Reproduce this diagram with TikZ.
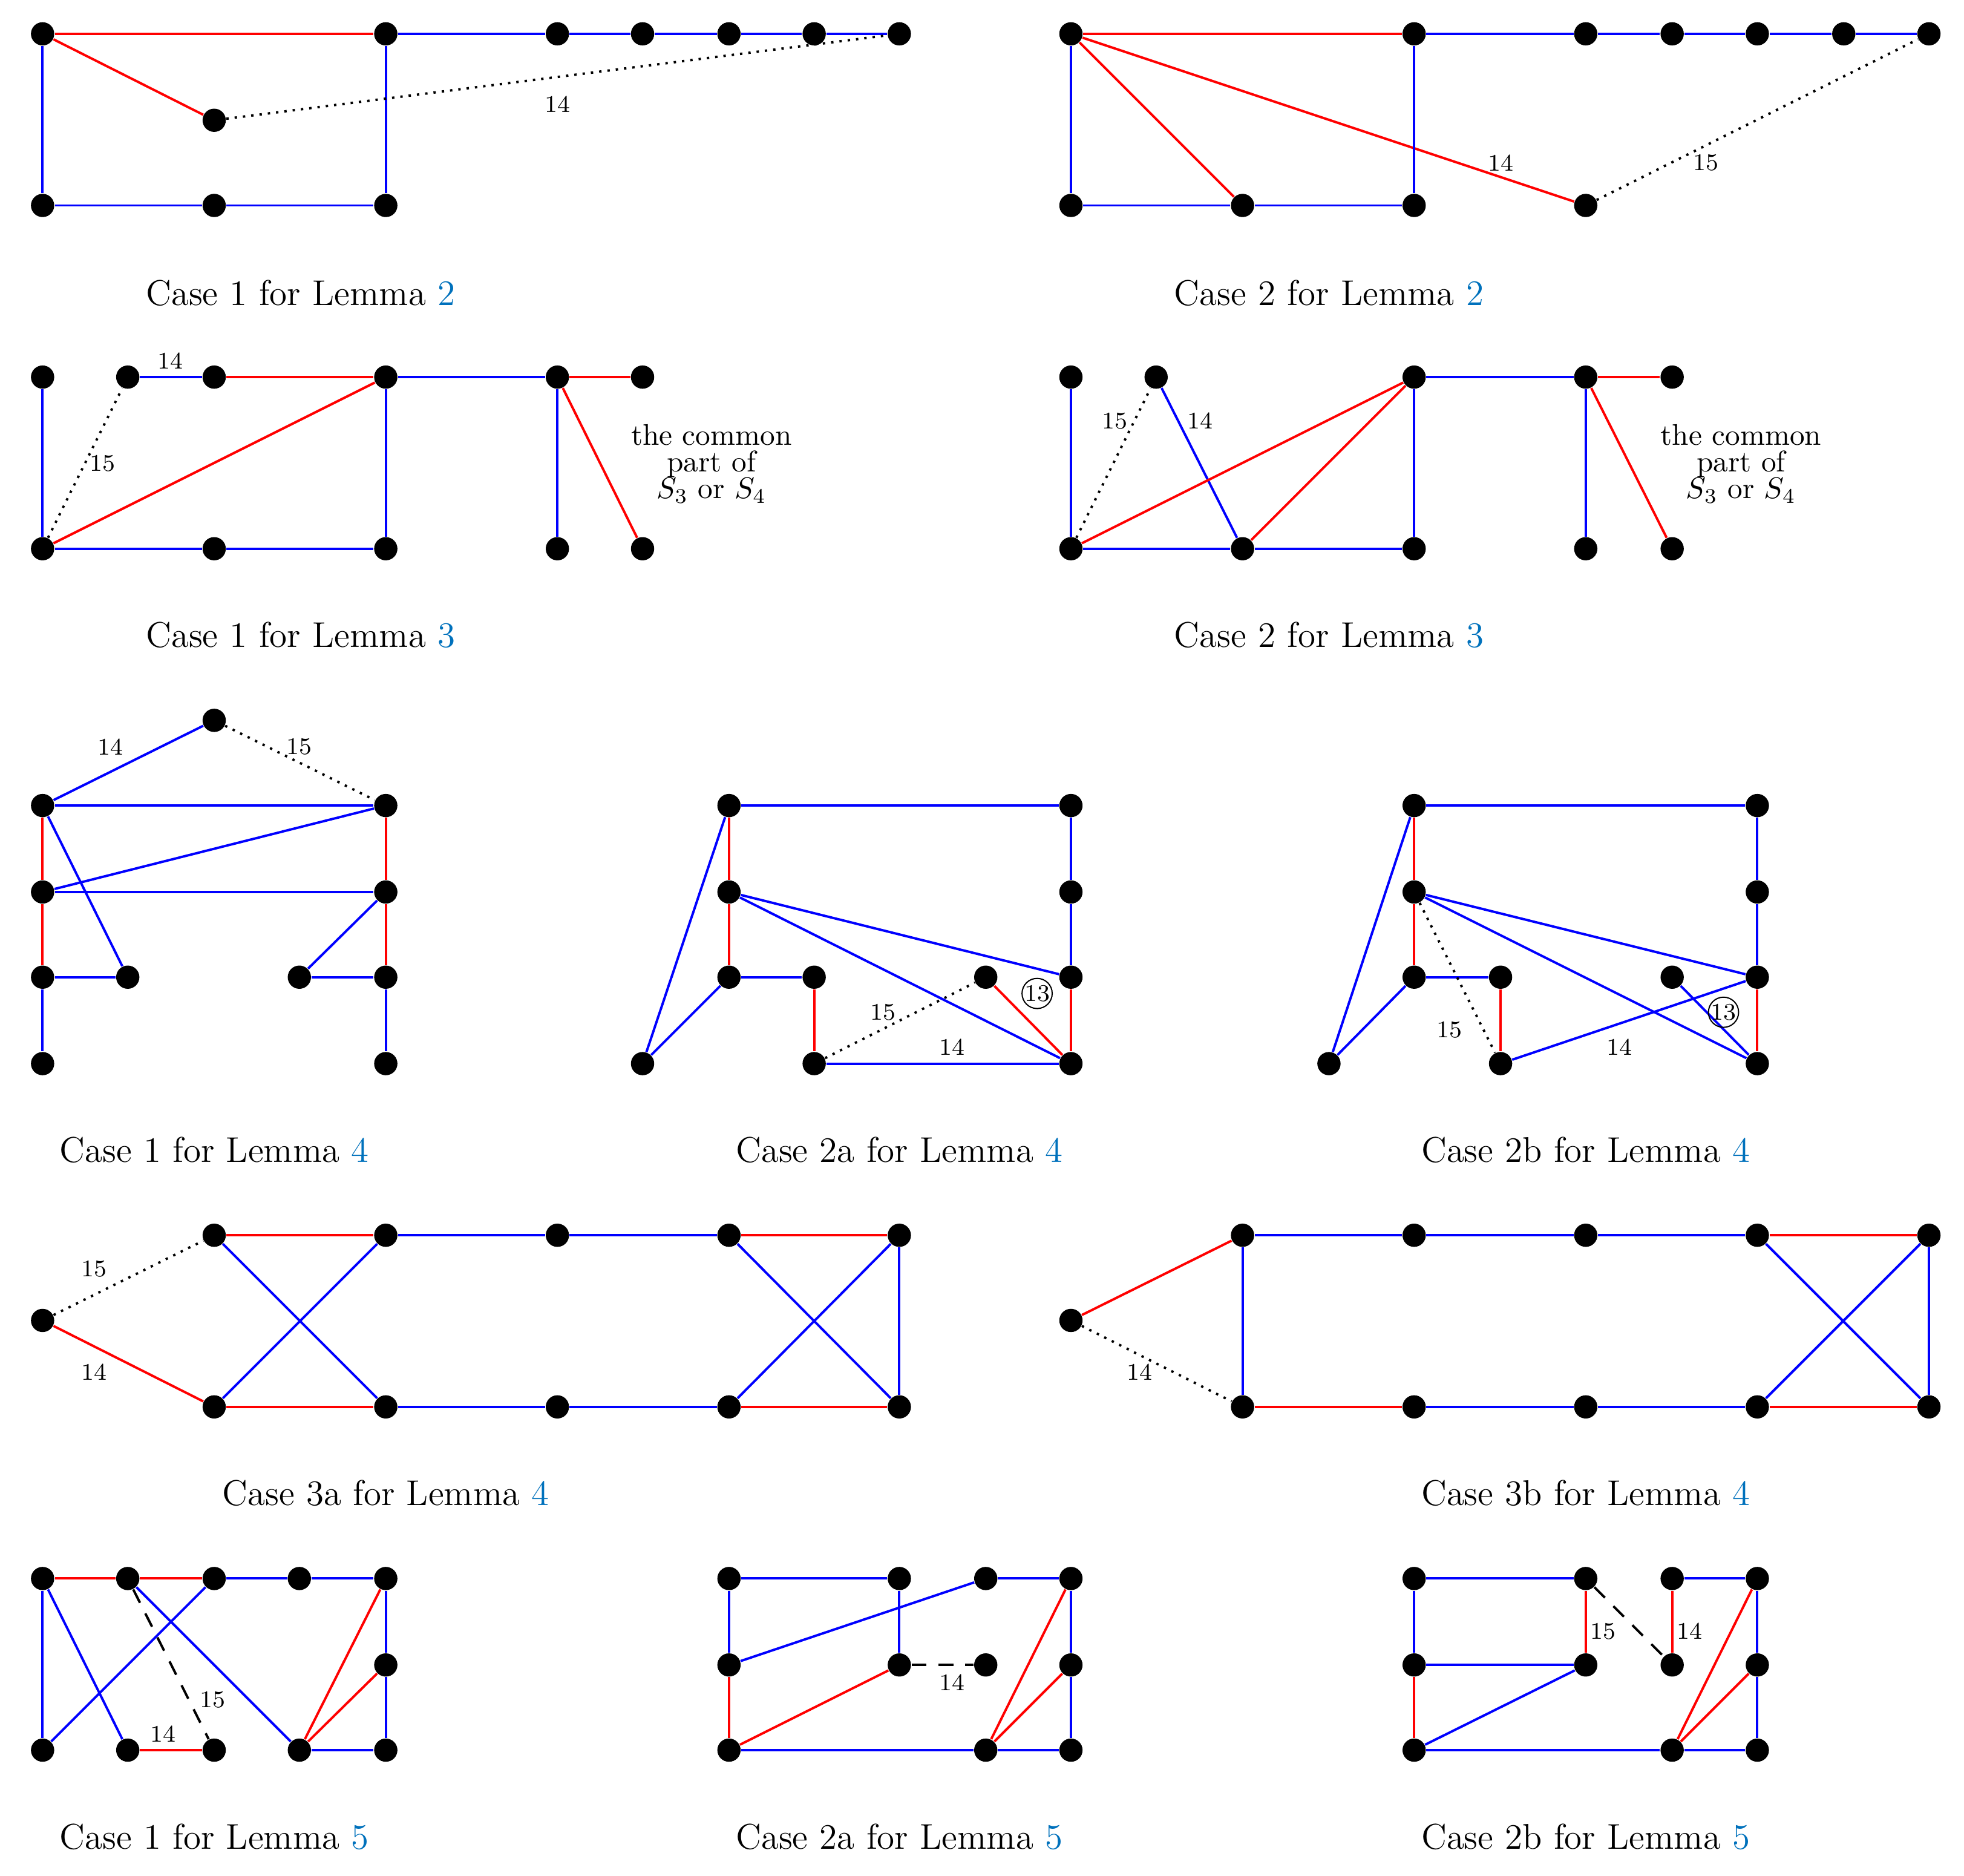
\documentclass[tikz,border=0pt]{standalone}
\usetikzlibrary{calc}
\definecolor{refblue}{RGB}{0,113,188}
\tikzset{
 v/.style={circle,fill=black,inner sep=0pt,minimum size=7.8pt},
 R/.style={red,line width=0.8pt},
 B/.style={blue,line width=0.8pt},
 Dt/.style={black,dotted,line width=0.8pt},
 Ds/.style={black,dashed,dash pattern=on 5pt off 4pt,line width=0.8pt},
 lab/.style={font=\footnotesize,inner sep=1pt},
 captxt/.style={font=\large},
}
\newcommand{\Vx}[3]{\node[v] (#1) at (#2,#3) {};}
\newcommand{\Lm}[1]{\textcolor{refblue}{#1}}
\begin{document}
\begin{tikzpicture}[x=0.42pt,y=-0.42pt]
\useasboundingbox (0,0) rectangle (1568,1497);
% ---------- Case 1 Lemma 2
\Vx{a1}{34}{27}\Vx{a2}{308}{27}\Vx{a3}{445}{27}\Vx{a4}{513}{27}\Vx{a5}{582}{27}\Vx{a6}{650}{27}\Vx{a7}{718}{27}
\Vx{a8}{171}{96}\Vx{a9}{34}{164}\Vx{a10}{171}{164}\Vx{a11}{308}{164}
\draw[R] (a1)--(a2); \draw[R] (a1)--(a8);
\draw[B] (a2)--(a3)--(a4)--(a5)--(a6)--(a7);
\draw[B] (a1)--(a9); \draw[B] (a9)--(a10)--(a11); \draw[B] (a2)--(a11);
\draw[Dt] (a8)--(a7);
\node[lab] (la1) at (445,83) {14};
\node[captxt] (ca) at (240,234) {Case 1 for Lemma \Lm{2}};
% ---------- Case 2 Lemma 2
\Vx{b1}{855}{27}\Vx{b2}{1129}{27}\Vx{b3}{1266}{27}\Vx{b4}{1335}{27}\Vx{b5}{1403}{27}\Vx{b6}{1472}{27}\Vx{b7}{1540}{27}
\Vx{b8}{855}{164}\Vx{b9}{992}{164}\Vx{b10}{1129}{164}\Vx{b11}{1266}{164}
\draw[R] (b1)--(b2); \draw[R] (b1)--(b9); \draw[R] (b1)--(b11);
\draw[B] (b2)--(b3)--(b4)--(b5)--(b6)--(b7);
\draw[B] (b1)--(b8); \draw[B] (b8)--(b9)--(b10); \draw[B] (b2)--(b10);
\draw[Dt] (b11)--(b7);
\node[lab] (lb1) at (1198,130) {14};
\node[lab] (lb2) at (1362,130) {15};
\node[captxt] (cb) at (1061,234) {Case 2 for Lemma \Lm{2}};
% ---------- Case 1 Lemma 3
\Vx{c1}{34}{301}\Vx{c2}{102}{301}\Vx{c3}{171}{301}\Vx{c4}{308}{301}\Vx{c5}{445}{301}\Vx{c6}{513}{301}
\Vx{c7}{34}{438}\Vx{c8}{171}{438}\Vx{c9}{308}{438}\Vx{c10}{445}{438}\Vx{c11}{513}{438}
\draw[B] (c1)--(c7); \draw[B] (c2)--(c3); \draw[R] (c3)--(c4); \draw[R] (c7)--(c4);
\draw[B] (c4)--(c5); \draw[R] (c5)--(c6); \draw[B] (c4)--(c9); \draw[B] (c7)--(c8)--(c9);
\draw[B] (c5)--(c10); \draw[R] (c5)--(c11); \draw[Dt] (c7)--(c2);
\node[lab] (lc1) at (136,288) {14};
\node[lab] (lc2) at (82,370) {15};
\node[align=center,inner sep=0pt,font=\normalsize] (tc) at (568,370) {the common\\[-3pt]part of\\[-3pt]$S_3$ or $S_4$};
\node[captxt] (cc) at (240,507) {Case 1 for Lemma \Lm{3}};
% ---------- Case 2 Lemma 3
\Vx{d1}{855}{301}\Vx{d2}{923}{301}\Vx{d3}{1129}{301}\Vx{d4}{1266}{301}\Vx{d5}{1335}{301}
\Vx{d6}{855}{438}\Vx{d7}{992}{438}\Vx{d8}{1129}{438}\Vx{d9}{1266}{438}\Vx{d10}{1335}{438}
\draw[B] (d1)--(d6); \draw[Dt] (d6)--(d2); \draw[B] (d2)--(d7);
\draw[R] (d6)--(d3); \draw[R] (d7)--(d3); \draw[B] (d3)--(d4); \draw[R] (d4)--(d5);
\draw[B] (d3)--(d8); \draw[B] (d6)--(d7)--(d8); \draw[B] (d4)--(d9); \draw[R] (d4)--(d10);
\node[lab] (ld1) at (890,336) {15};
\node[lab] (ld2) at (958,336) {14};
\node[align=center,inner sep=0pt,font=\normalsize] (td) at (1390,370) {the common\\[-3pt]part of\\[-3pt]$S_3$ or $S_4$};
\node[captxt] (cd) at (1061,507) {Case 2 for Lemma \Lm{3}};
% ---------- Case 1 Lemma 4
\Vx{e1}{171}{575}\Vx{e2}{34}{643}\Vx{e3}{308}{643}\Vx{e4}{34}{712}\Vx{e5}{308}{712}
\Vx{e6}{34}{780}\Vx{e7}{102}{780}\Vx{e8}{239}{780}\Vx{e9}{308}{780}\Vx{e10}{34}{849}\Vx{e11}{308}{849}
\draw[B] (e2)--(e1); \draw[Dt] (e1)--(e3); \draw[B] (e2)--(e3); \draw[B] (e4)--(e3); \draw[B] (e4)--(e5);
\draw[B] (e2)--(e7); \draw[R] (e2)--(e4)--(e6); \draw[B] (e6)--(e7); \draw[B] (e6)--(e10);
\draw[R] (e3)--(e5)--(e9); \draw[B] (e5)--(e8); \draw[B] (e8)--(e9); \draw[B] (e9)--(e11);
\node[lab] (le1) at (88,596) {14};
\node[lab] (le2) at (239,596) {15};
\node[captxt] (ce) at (171,918) {Case 1 for Lemma \Lm{4}};
% ---------- Case 2a Lemma 4
\Vx{f1}{582}{643}\Vx{f2}{855}{643}\Vx{f3}{582}{712}\Vx{f4}{855}{712}\Vx{f5}{582}{780}\Vx{f6}{650}{780}
\Vx{f7}{787}{780}\Vx{f8}{855}{780}\Vx{f9}{513}{849}\Vx{f10}{650}{849}\Vx{f11}{855}{849}
\draw[B] (f1)--(f2); \draw[B] (f2)--(f4)--(f8); \draw[R] (f1)--(f3)--(f5);
\draw[B] (f1)--(f9); \draw[B] (f9)--(f5); \draw[B] (f5)--(f6); \draw[R] (f6)--(f10);
\draw[B] (f3)--(f8); \draw[B] (f3)--(f11); \draw[B] (f10)--(f11); \draw[Dt] (f10)--(f7);
\draw[R] (f7)--(f11); \draw[R] (f8)--(f11);
\node[lab] (lf1) at (760,836) {14};
\node[lab] (lf2) at (705,808) {15};
\node[lab,circle,draw,inner sep=0pt,minimum size=9pt] (lf3) at (828,793) {13};
\node[captxt] (cf) at (718,918) {Case 2a for Lemma \Lm{4}};
% ---------- Case 2b Lemma 4
\Vx{g1}{1129}{643}\Vx{g2}{1403}{643}\Vx{g3}{1129}{712}\Vx{g4}{1403}{712}\Vx{g5}{1129}{780}\Vx{g6}{1198}{780}
\Vx{g7}{1335}{780}\Vx{g8}{1403}{780}\Vx{g9}{1061}{849}\Vx{g10}{1198}{849}\Vx{g11}{1403}{849}
\draw[B] (g1)--(g2); \draw[B] (g2)--(g4)--(g8); \draw[R] (g1)--(g3)--(g5);
\draw[B] (g1)--(g9); \draw[B] (g9)--(g5); \draw[B] (g5)--(g6); \draw[R] (g6)--(g10);
\draw[B] (g3)--(g8); \draw[B] (g3)--(g11); \draw[B] (g10)--(g8); \draw[Dt] (g3)--(g10);
\draw[B] (g7)--(g11); \draw[R] (g8)--(g11);
\node[lab] (lg1) at (1293,836) {14};
\node[lab] (lg2) at (1157,822) {15};
\node[lab,circle,draw,inner sep=0pt,minimum size=9pt] (lg3) at (1376,808) {13};
\node[captxt] (cg) at (1266,918) {Case 2b for Lemma \Lm{4}};
% ---------- Case 3a Lemma 4
\Vx{h1}{171}{986}\Vx{h2}{308}{986}\Vx{h3}{445}{986}\Vx{h4}{582}{986}\Vx{h5}{718}{986}\Vx{h6}{34}{1054}
\Vx{h7}{171}{1123}\Vx{h8}{308}{1123}\Vx{h9}{445}{1123}\Vx{h10}{582}{1123}\Vx{h11}{718}{1123}
\draw[R] (h1)--(h2); \draw[B] (h2)--(h3)--(h4); \draw[R] (h4)--(h5);
\draw[R] (h7)--(h8); \draw[B] (h8)--(h9)--(h10); \draw[R] (h10)--(h11);
\draw[B] (h1)--(h8); \draw[B] (h7)--(h2); \draw[B] (h4)--(h11); \draw[B] (h10)--(h5); \draw[B] (h5)--(h11);
\draw[Dt] (h6)--(h1); \draw[R] (h6)--(h7);
\node[lab] (lh1) at (75,1013) {15};
\node[lab] (lh2) at (75,1095) {14};
\node[captxt] (ch) at (308,1192) {Case 3a for Lemma \Lm{4}};
% ---------- Case 3b Lemma 4
\Vx{i1}{992}{986}\Vx{i2}{1129}{986}\Vx{i3}{1266}{986}\Vx{i4}{1403}{986}\Vx{i5}{1540}{986}\Vx{i6}{855}{1054}
\Vx{i7}{992}{1123}\Vx{i8}{1129}{1123}\Vx{i9}{1266}{1123}\Vx{i10}{1403}{1123}\Vx{i11}{1540}{1123}
\draw[R] (i6)--(i1); \draw[Dt] (i6)--(i7); \draw[B] (i1)--(i2)--(i3)--(i4); \draw[R] (i4)--(i5);
\draw[B] (i1)--(i7); \draw[R] (i7)--(i8); \draw[B] (i8)--(i9)--(i10); \draw[R] (i10)--(i11);
\draw[B] (i4)--(i11); \draw[B] (i10)--(i5); \draw[B] (i5)--(i11);
\node[lab] (li1) at (910,1095) {14};
\node[captxt] (ci) at (1266,1192) {Case 3b for Lemma \Lm{4}};
% ---------- Case 1 Lemma 5
\Vx{j1}{34}{1260}\Vx{j2}{102}{1260}\Vx{j3}{171}{1260}\Vx{j4}{239}{1260}\Vx{j5}{308}{1260}\Vx{j6}{308}{1329}
\Vx{j7}{34}{1397}\Vx{j8}{102}{1397}\Vx{j9}{171}{1397}\Vx{j10}{239}{1397}\Vx{j11}{308}{1397}
\draw[R] (j1)--(j2)--(j3); \draw[B] (j3)--(j4)--(j5); \draw[B] (j1)--(j7); \draw[B] (j1)--(j8);
\draw[B] (j7)--(j3); \draw[B] (j2)--(j10); \draw[Ds] (j2)--(j9); \draw[R] (j8)--(j9);
\draw[R] (j10)--(j5); \draw[R] (j10)--(j6); \draw[B] (j5)--(j6)--(j11); \draw[B] (j10)--(j11);
\node[lab] (lj1) at (170,1357) {15};
\node[lab] (lj2) at (130,1384) {14};
\node[captxt] (cj) at (171,1466) {Case 1 for Lemma \Lm{5}};
% ---------- Case 2a Lemma 5
\Vx{k1}{582}{1260}\Vx{k2}{718}{1260}\Vx{k3}{787}{1260}\Vx{k4}{855}{1260}\Vx{k5}{582}{1329}\Vx{k6}{718}{1329}
\Vx{k7}{787}{1329}\Vx{k8}{855}{1329}\Vx{k9}{582}{1397}\Vx{k10}{787}{1397}\Vx{k11}{855}{1397}
\draw[B] (k1)--(k2); \draw[B] (k1)--(k5); \draw[R] (k5)--(k9); \draw[B] (k2)--(k6);
\draw[B] (k5)--(k3); \draw[B] (k3)--(k4); \draw[R] (k9)--(k6); \draw[Ds] (k6)--(k7);
\draw[B] (k9)--(k10)--(k11); \draw[R] (k10)--(k4); \draw[R] (k10)--(k8); \draw[B] (k4)--(k8)--(k11);
\node[lab] (lk1) at (760,1343) {14};
\node[captxt] (ck) at (718,1466) {Case 2a for Lemma \Lm{5}};
% ---------- Case 2b Lemma 5
\Vx{m1}{1129}{1260}\Vx{m2}{1266}{1260}\Vx{m3}{1335}{1260}\Vx{m4}{1403}{1260}\Vx{m5}{1129}{1329}\Vx{m6}{1266}{1329}
\Vx{m7}{1335}{1329}\Vx{m8}{1403}{1329}\Vx{m9}{1129}{1397}\Vx{m10}{1335}{1397}\Vx{m11}{1403}{1397}
\draw[B] (m1)--(m2); \draw[B] (m1)--(m5); \draw[R] (m5)--(m9); \draw[B] (m5)--(m6); \draw[B] (m9)--(m6);
\draw[R] (m2)--(m6); \draw[Ds] (m2)--(m7); \draw[R] (m3)--(m7); \draw[B] (m3)--(m4);
\draw[B] (m4)--(m8)--(m11); \draw[R] (m10)--(m4); \draw[R] (m10)--(m8); \draw[B] (m9)--(m10)--(m11);
\node[lab] (lm1) at (1280,1302) {15};
\node[lab] (lm2) at (1349,1302) {14};
\node[captxt] (cm) at (1266,1466) {Case 2b for Lemma \Lm{5}};
\end{tikzpicture}
\end{document}
